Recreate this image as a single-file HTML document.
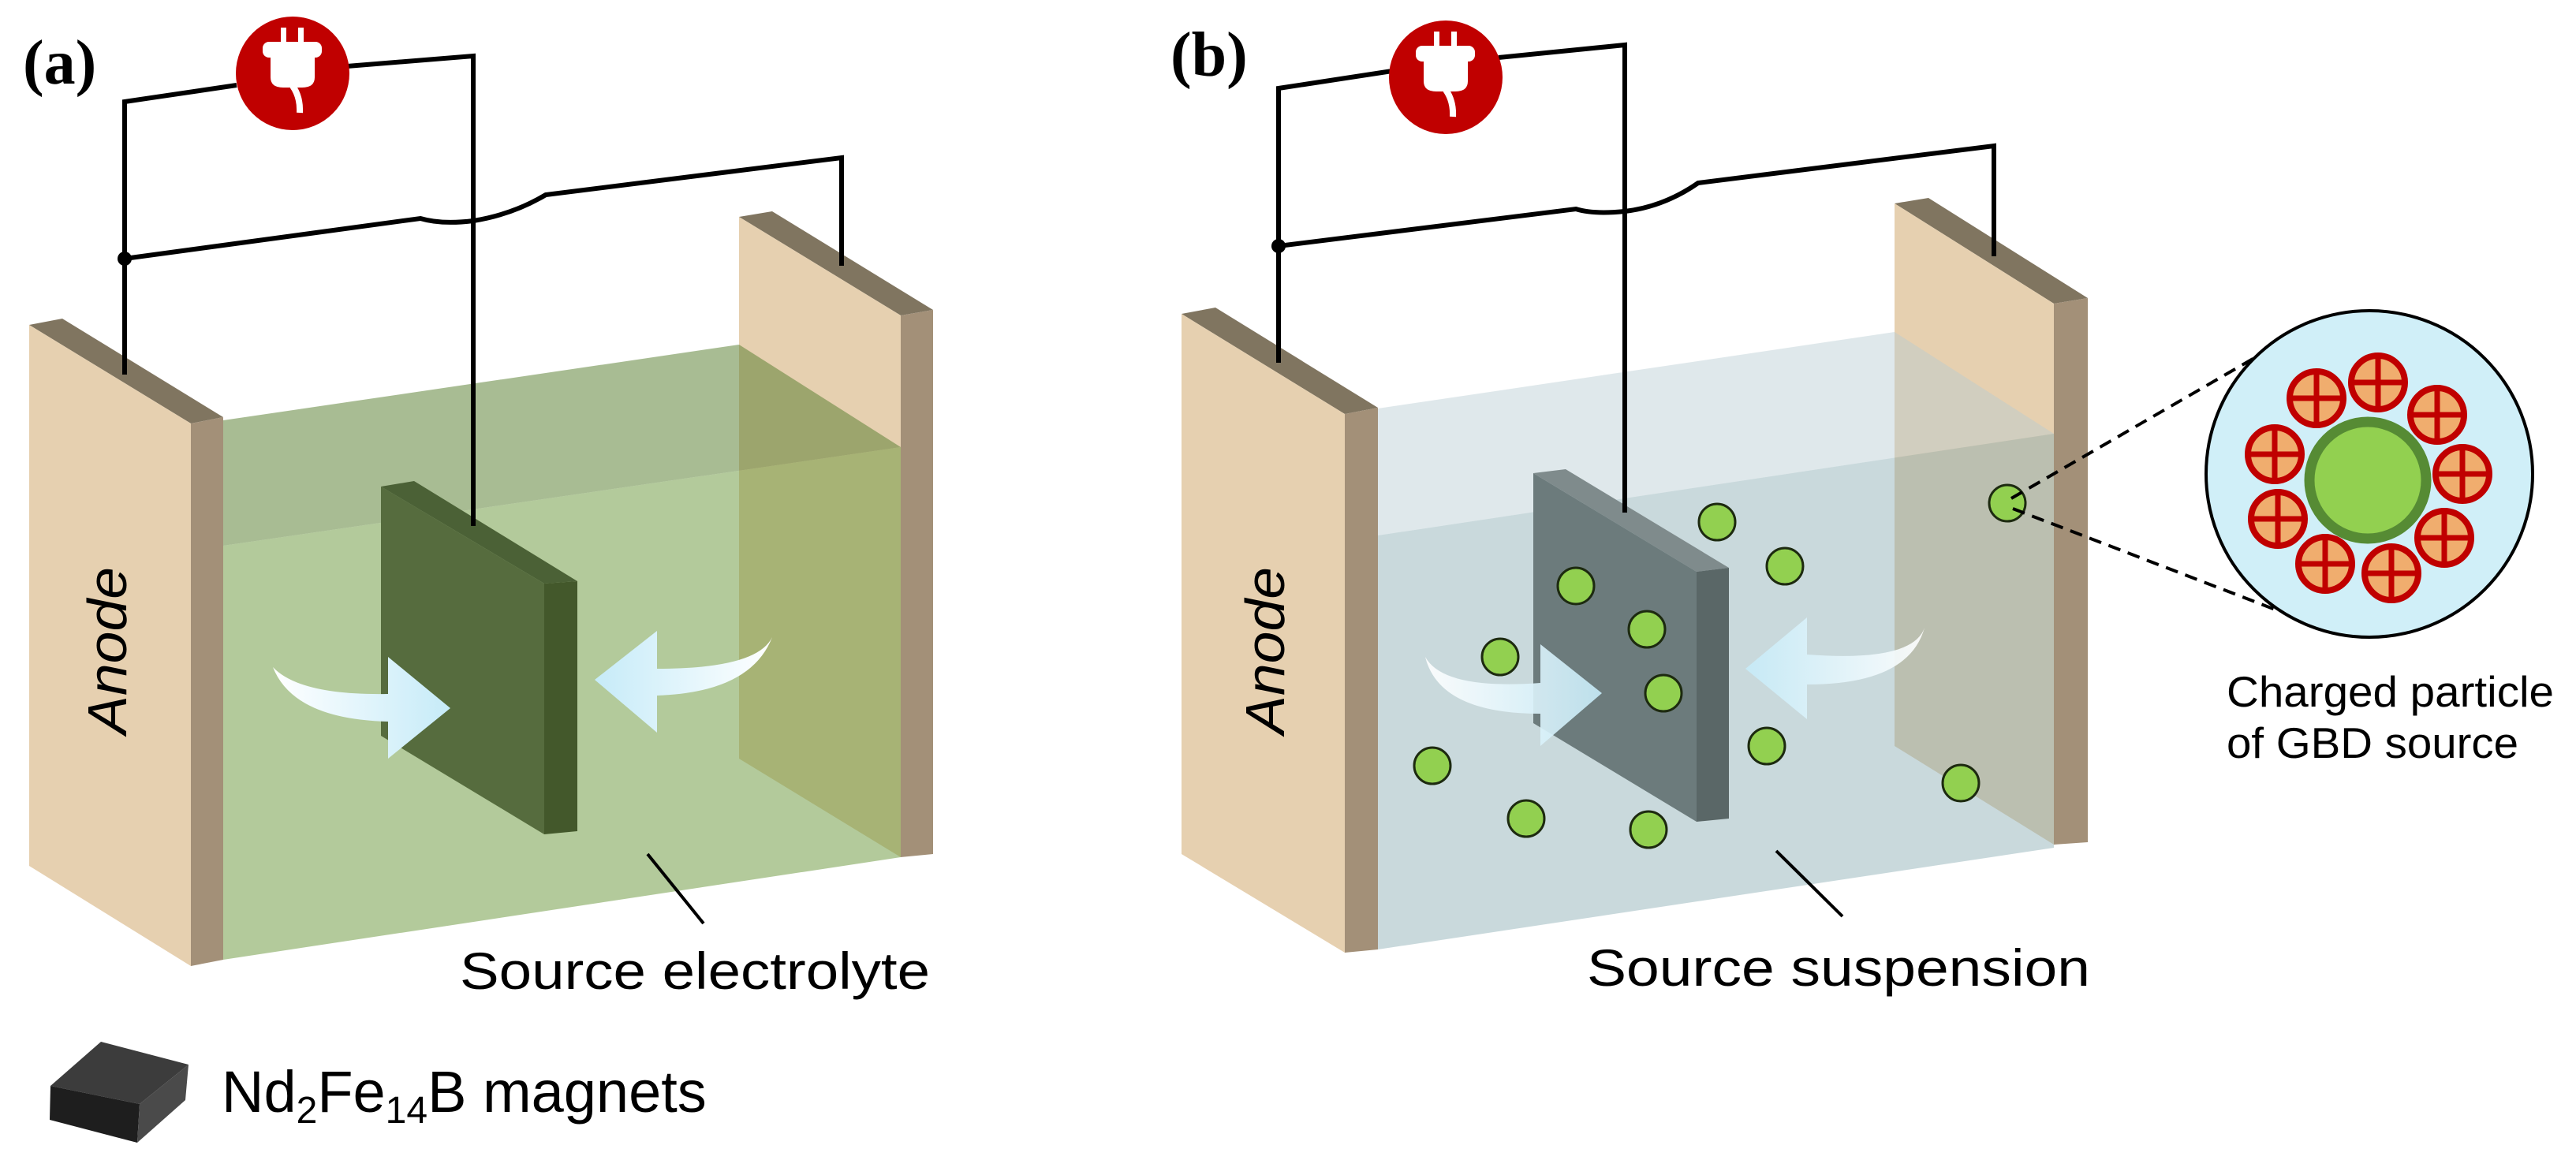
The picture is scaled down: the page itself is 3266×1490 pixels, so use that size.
<!DOCTYPE html>
<html><head><meta charset="utf-8"><style>html,body{margin:0;padding:0;background:#fff}svg{display:block}</style></head>
<body>
<svg width="3266" height="1490" viewBox="0 0 3266 1490" xmlns="http://www.w3.org/2000/svg" font-family="'Liberation Sans', sans-serif">
<defs>
<linearGradient id="gl" x1="0" x2="1" y1="0" y2="0"><stop offset="0" stop-color="#ffffff"/><stop offset="1" stop-color="#c6ebf8"/></linearGradient>
<linearGradient id="gr" x1="0" x2="1" y1="0" y2="0"><stop offset="0" stop-color="#c6ebf8"/><stop offset="1" stop-color="#ffffff"/></linearGradient>
<g id="plug">
<circle cx="0" cy="0" r="72" fill="#c00000"/>
<rect x="-15" y="-58" width="7" height="22" fill="#fff"/>
<rect x="7" y="-58" width="7" height="22" fill="#fff"/>
<rect x="-38" y="-40" width="75" height="20" rx="8" fill="#fff"/>
<path d="M-28,-25 L28,-25 L28,5 Q28,18 12,18 L-12,18 Q-28,18 -28,5 Z" fill="#fff"/>
<path d="M0,16 Q10,30 9,50" stroke="#fff" stroke-width="8" fill="none"/>
</g>
<g id="pp"><circle r="34" fill="#f0ad6e" stroke="#c00000" stroke-width="8"/><line x1="-34" y1="0" x2="34" y2="0" stroke="#c00000" stroke-width="7"/><line x1="0" y1="-34" x2="0" y2="34" stroke="#c00000" stroke-width="7"/></g>
</defs>

<!-- ===== Panel (a) ===== -->
<text x="29" y="106" font-family="'Liberation Serif', serif" font-weight="bold" font-size="80">(a)</text>
<!-- right plate -->
<polygon points="937,275 979,268 1183,393 1142,400" fill="#807560"/>
<polygon points="937,275 1142,400 1142,1087 937,962" fill="#e6d0b0"/>
<polygon points="1142,400 1183,393 1183,1083 1142,1087" fill="#a39078"/>
<!-- liquid -->
<polygon points="283,533 937,437 1142,567 283,692" fill="rgb(88,127,48)" fill-opacity="0.52"/>
<polygon points="283,692 1142,567 1142,1087 283,1217" fill="rgb(110,154,63)" fill-opacity="0.52"/>
<!-- magnet -->
<polygon points="483,617 525,610 732,737 690,740" fill="#4b6136"/>
<polygon points="483,617 690,740 690,1058 483,933" fill="#566c3e"/>
<polygon points="690,740 732,737 732,1054 690,1058" fill="#43582b"/>
<!-- arrows -->
<path d="M346,846 Q380,882 492,880 L492,833 L571,898 L492,962 L492,915 Q372,912 346,846 Z" fill="url(#gl)"/>
<path d="M979,808 Q960,848 833,848 L833,800 L754,862 L833,929 L833,882 Q952,878 979,808 Z" fill="url(#gr)"/>
<!-- anode -->
<polygon points="37,412 79,404 283,529 242,537" fill="#807560"/>
<polygon points="37,412 242,537 242,1225 37,1098" fill="#e6d0b0"/>
<polygon points="242,537 283,529 283,1217 242,1225" fill="#a39078"/>
<text transform="translate(160,825) rotate(-90)" text-anchor="middle" font-style="italic" font-size="70" textLength="212" lengthAdjust="spacingAndGlyphs">Anode</text>
<!-- wires -->
<g stroke="#000" stroke-width="6" fill="none">
<polyline points="158,475 158,129 300,108"/>
<polyline points="440,84 600,71 600,667"/>
<path d="M158,328 L533,277 Q560,285 600,280 Q650,272 692,247 L1067,200 L1067,337"/>
</g>
<circle cx="158" cy="328" r="9" fill="#000"/>
<use href="#plug" x="371" y="93"/>
<line x1="821" y1="1083" x2="892" y2="1171" stroke="#000" stroke-width="4"/>
<text x="583" y="1254" font-size="66" textLength="596" lengthAdjust="spacingAndGlyphs">Source electrolyte</text>

<!-- legend -->
<polygon points="128,1321 239,1350 177,1400 64,1377" fill="#3c3c3c"/>
<polygon points="64,1377 177,1400 174,1449 63,1420" fill="#1e1e1e"/>
<polygon points="177,1400 239,1350 235,1395 174,1449" fill="#4a4a4a"/>
<text x="281" y="1410" font-size="74">Nd<tspan font-size="48" dy="14">2</tspan><tspan dy="-14">Fe</tspan><tspan font-size="48" dy="14">14</tspan><tspan dy="-14">B magnets</tspan></text>

<!-- ===== Panel (b) ===== -->
<text x="1484" y="96" font-family="'Liberation Serif', serif" font-weight="bold" font-size="80">(b)</text>
<polygon points="2402,258 2445,251 2647,378 2604,385" fill="#807560"/>
<polygon points="2402,258 2604,385 2604,1071 2402,946" fill="#e6d0b0"/>
<polygon points="2604,385 2647,378 2647,1068 2604,1071" fill="#a39078"/>
<polygon points="1747,518 2402,421 2604,550 1747,679" fill="rgb(184,204,211)" fill-opacity="0.45"/>
<polygon points="1747,679 2604,550 2604,1075 1747,1204" fill="rgb(135,171,178)" fill-opacity="0.45"/>
<!-- gray cathode -->
<polygon points="1944,600 1985,595 2192,720 2151,725" fill="#7f8b8c"/>
<polygon points="1944,600 2151,725 2151,1042 1944,917" fill="#6c7b7c"/>
<polygon points="2151,725 2192,720 2192,1038 2151,1042" fill="#5a6767"/>
<!-- particles -->
<g fill="#92d050" stroke="#1d2a10" stroke-width="3">
<circle cx="2177" cy="662" r="23"/><circle cx="2263" cy="718" r="23"/><circle cx="1998" cy="743" r="23"/>
<circle cx="2088" cy="798" r="23"/><circle cx="1902" cy="833" r="23"/><circle cx="2109" cy="879" r="23"/>
<circle cx="2240" cy="946" r="23"/><circle cx="1816" cy="971" r="23"/><circle cx="1935" cy="1038" r="23"/>
<circle cx="2090" cy="1052" r="23"/><circle cx="2486" cy="993" r="23"/><circle cx="2545" cy="638" r="23"/>
</g>
<path d="M1807,833 Q1830,875 1953,866 L1953,817 L2031,879 L1953,946 L1953,905 Q1825,905 1807,833 Z" fill="url(#gl)" fill-opacity="0.9"/>
<path d="M2440,796 Q2425,840 2291,830 L2291,783 L2213,848 L2291,912 L2291,868 Q2420,868 2440,796 Z" fill="url(#gr)" fill-opacity="0.9"/>
<!-- anode b -->
<polygon points="1498,398 1541,390 1747,517 1705,525" fill="#807560"/>
<polygon points="1498,398 1705,525 1705,1208 1498,1083" fill="#e6d0b0"/>
<polygon points="1705,525 1747,517 1747,1204 1705,1208" fill="#a39078"/>
<text transform="translate(1628,825) rotate(-90)" text-anchor="middle" font-style="italic" font-size="70" textLength="212" lengthAdjust="spacingAndGlyphs">Anode</text>
<g stroke="#000" stroke-width="6" fill="none">
<polyline points="1621,460 1621,112 1765,90"/>
<polyline points="1900,73 2060,57 2060,650"/>
<path d="M1621,312 L1998,265 Q2020,272 2060,268 Q2110,262 2153,232 L2528,185 L2528,325"/>
</g>
<circle cx="1621" cy="312" r="9" fill="#000"/>
<use href="#plug" x="1833" y="98"/>
<line x1="2252" y1="1079" x2="2336" y2="1162" stroke="#000" stroke-width="4"/>
<text x="2012" y="1250" font-size="66" textLength="638" lengthAdjust="spacingAndGlyphs">Source suspension</text>
<!-- zoom -->
<g stroke="#000" stroke-width="4" stroke-dasharray="16,10" fill="none">
<line x1="2550" y1="632" x2="2865" y2="450"/>
<line x1="2552" y1="645" x2="2890" y2="775"/>
</g>
<circle cx="3004" cy="601" r="207" fill="#d0eff8" stroke="#000" stroke-width="4"/>
<circle cx="3002" cy="609" r="74" fill="#92d050" stroke="#568b34" stroke-width="13"/>
<use href="#pp" x="2937" y="505"/><use href="#pp" x="3015" y="485"/><use href="#pp" x="3090" y="526"/>
<use href="#pp" x="3122" y="601"/><use href="#pp" x="3099" y="682"/><use href="#pp" x="3032" y="727"/>
<use href="#pp" x="2948" y="715"/><use href="#pp" x="2888" y="658"/><use href="#pp" x="2884" y="576"/>
<text x="2823" y="896" font-size="55" textLength="415" lengthAdjust="spacingAndGlyphs">Charged particle</text>
<text x="2823" y="961" font-size="55" textLength="370" lengthAdjust="spacingAndGlyphs">of GBD source</text>
</svg>
</body></html>
